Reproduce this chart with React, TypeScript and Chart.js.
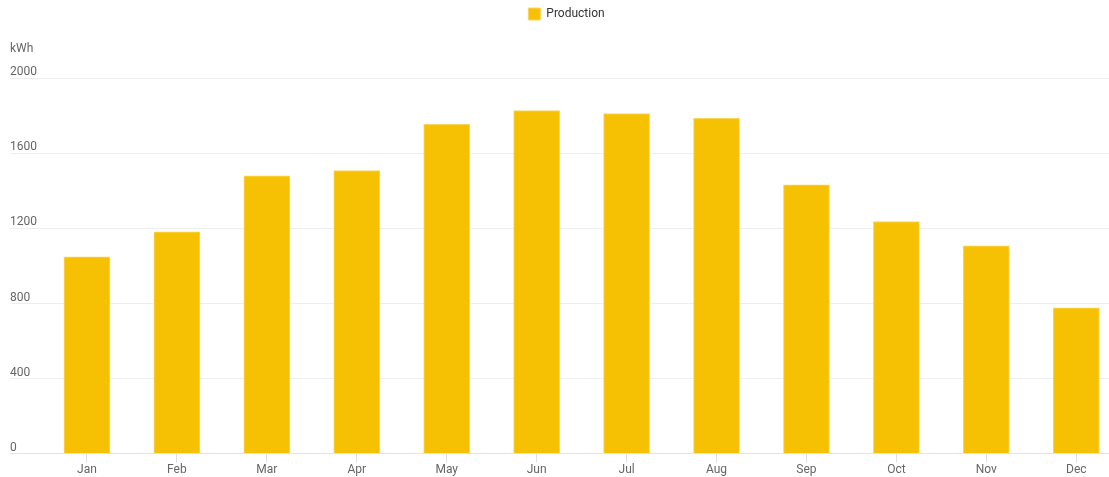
import { useEffect, useRef } from 'react';
import { Chart, registerables } from 'chart.js';

Chart.register(...registerables);

// Monthly energy production
const MONTHS = ['Jan', 'Feb', 'Mar', 'Apr', 'May', 'Jun', 'Jul', 'Aug', 'Sep', 'Oct', 'Nov', 'Dec'];
const PRODUCTION = [1049, 1182, 1481, 1509, 1755, 1829, 1813, 1787, 1433, 1237, 1108, 777];
const Y_TICKS = [0, 400, 800, 1200, 1600, 2000];
const SERIES_LABEL = 'Production';
const UNIT = 'kWh';

const FONT = 'Roboto, "Liberation Sans", Arial, sans-serif';
const BAR_COLOR = '#f6c103';

// Nudges the legend so it sits centred over the plot rather than the canvas
const legendShift = {
  id: 'legendShift',
  afterLayout(chart: any) {
    const legend = chart.legend;
    if (!legend) return;
    legend.left += 7;
    legend.right += 7;
  },
};

export default function App() {
  const canvasRef = useRef<HTMLCanvasElement | null>(null);

  useEffect(() => {
    const canvas = canvasRef.current;
    if (!canvas) return;

    const chart = new Chart(canvas, {
      type: 'bar',
      data: {
        datasets: [
          {
            label: SERIES_LABEL,
            data: PRODUCTION.map((v, i) => ({ x: i, y: v })),
            backgroundColor: BAR_COLOR,
            borderColor: '#fbd45c',
            borderWidth: 1,
            barThickness: 46,
          },
        ],
      },
      options: {
        animation: false,
        responsive: false,
        events: [],
        layout: { padding: { left: 10, right: 0, top: 0, bottom: 0 } },
        plugins: {
          legend: {
            display: true,
            position: 'top',
            labels: {
              boxWidth: 12,
              boxHeight: 12,
              padding: 8,
              color: '#333333',
              font: { family: FONT, size: 12 },
            },
          },
          title: {
            display: true,
            text: UNIT,
            align: 'start',
            position: 'top',
            weight: 500,
            color: '#666666',
            font: { family: FONT, size: 12, weight: 'normal' },
            padding: { top: 12, bottom: 22 },
          },
          tooltip: { enabled: false },
        },
        scales: {
          x: {
            type: 'linear',
            offset: false,
            min: -0.856,
            max: 11.364,
            afterBuildTicks: (scale: any) => {
              scale.ticks = MONTHS.map((_, i) => ({ value: i }));
            },
            grid: {
              offset: false,
              drawOnChartArea: false,
              drawTicks: true,
              tickLength: 9,
              color: '#dedede',
            },
            border: { display: true, color: '#e3e3e3' },
            ticks: {
              autoSkip: false,
              maxRotation: 0,
              padding: 0,
              color: '#666666',
              font: { family: FONT, size: 12 },
              callback: (v: any) => MONTHS[Number(v)] ?? '',
            },
          },
          y: {
            min: 0,
            max: 2000,
            afterBuildTicks: (scale: any) => {
              scale.ticks = Y_TICKS.map((v) => ({ value: v }));
            },
            grid: { color: '#eeeeee', drawTicks: false },
            border: { display: false },
            ticks: {
              mirror: true,
              padding: 0,
              labelOffset: -6,
              crossAlign: 'near',
              color: '#666666',
              font: { family: FONT, size: 12 },
              callback: (v: any) => String(v),
            },
          },
        },
      },
      plugins: [legendShift],
    } as any);

    return () => chart.destroy();
  }, []);

  return (
    <div style={{ position: 'absolute', left: 0, top: 0, width: 1109, height: 477, background: '#ffffff' }}>
      <canvas ref={canvasRef} width={1109} height={477} />
    </div>
  );
}
